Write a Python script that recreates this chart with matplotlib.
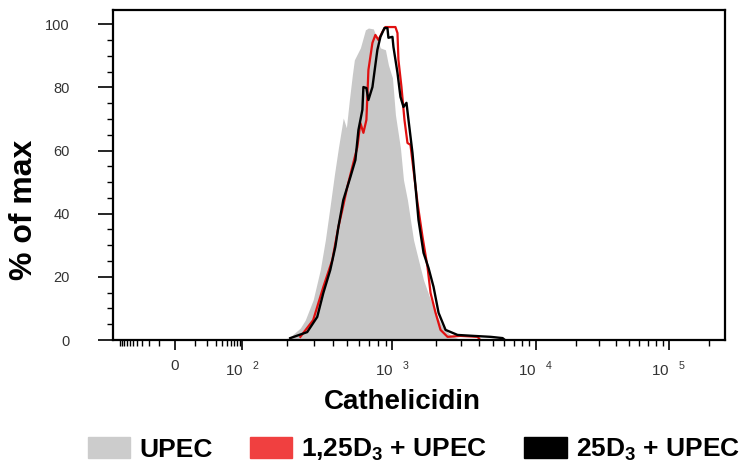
import numpy as np
import matplotlib
matplotlib.use('Agg')
import matplotlib.pyplot as plt
from matplotlib.patches import Patch
from matplotlib.ticker import FixedLocator

plt.rcParams['font.family'] = ['Liberation Sans', 'DejaVu Sans']
plt.rcParams['mathtext.fontset'] = 'custom'
plt.rcParams['mathtext.rm'] = 'Liberation Sans'
plt.rcParams['mathtext.bf'] = 'Liberation Sans:bold'

# histogram data: cathelicidin intensity vs % of max
upec_x = [188, 209, 244, 263, 297, 331, 358, 386, 411, 437, 471, 494, 517, 541, 558,
          612, 661, 692, 747, 794, 832, 898, 940, 1000, 1049, 1137, 1194, 1273, 1336,
          1403, 1520, 1648, 1845, 2000, 2239, 2545, 2990]
upec_y = [0, 1.0, 3.8, 6.3, 12.7, 22.2, 31.7, 42.8, 52.3, 60.8, 70.3, 67.2, 76, 83.9, 88.7,
          92.5, 98.2, 98.8, 98.5, 95, 92.5, 91.9, 87.1, 83, 71.3, 60.8, 50.7, 44.3, 38,
          31.7, 25.3, 19, 12.7, 8.6, 4.1, 1.6, 0]

d125_x = [244, 297, 347, 398, 437, 464, 501, 541, 584, 612, 641, 671, 692, 736, 770,
          807, 858, 898, 1049, 1084, 1101, 1156, 1213, 1273, 1336, 1403, 1496, 1622,
          1757, 1845, 2000, 2166, 2425, 2990, 3930, 4100]
d125_y = [1.0, 6.3, 16.8, 25.3, 35.8, 41.2, 48.5, 54.8, 61.1, 68.7, 65.6, 69.7, 85.5, 94.1, 96.6,
          95, 97.6, 99.1, 99.1, 97.2, 88.7, 80.1, 69.7, 62.4, 61.8, 53.8, 43.4, 32.6,
          23.1, 14.9, 8.6, 3.2, 1.0, 1.3, 1.0, 0]

d25_x = [209, 271, 316, 347, 386, 417, 437, 471, 525, 567, 594, 631, 641, 671, 692,
         736, 794, 832, 885, 926, 940, 1000, 1016, 1084, 1137, 1194, 1253, 1294, 1380,
         1449, 1520, 1648, 1786, 1936, 2099, 2348, 2848, 3684, 4845, 5875, 6100]
d25_y = [0.6, 2.5, 7.3, 14.9, 22.2, 29.5, 35.8, 44.3, 51.6, 57, 66.5, 72.9, 80.1, 79.8, 76,
         80.1, 91.9, 96, 98.8, 98.8, 95.7, 96, 92.8, 84.6, 77, 73.8, 75.1, 69.7, 59.2,
         48.5, 38, 27.6, 22.8, 16.8, 8.6, 3.2, 1.6, 1.3, 1.0, 0.6, 0]

major_vals = [0, 1e2, 1e3, 1e4, 1e5]
major_labels = ['0', r'10$^{\ \ \ 2}$', r'10$^{\ \ \ 3}$', r'10$^{\ \ \ 4}$', r'10$^{\ \ \ 5}$']

# biexponential-like display scale (FACS style)
W = 10.0
scale_vals = np.array([-150, 0, 1e2, 1e3, 1e4, 1e5, 262144])
scale_pos = np.array([0, 62, 129, 279, 422, 555, 611], dtype=float)
scale_t = np.arcsinh(scale_vals / W)


def fwd(x):
    return np.interp(np.arcsinh(np.asarray(x, dtype=float) / W), scale_t, scale_pos)


def inv(p):
    return W * np.sinh(np.interp(np.asarray(p, dtype=float), scale_pos, scale_t))


fig = plt.figure(figsize=(7.5, 4.65), dpi=100)
ax = fig.add_axes([113 / 750, 1 - 340 / 465, 612 / 750, 330 / 465])
ax.set_xscale('function', functions=(fwd, inv))

ax.fill_between(upec_x, upec_y, 0, color='#c8c8c8', lw=0, zorder=1)
ax.plot(d125_x, d125_y, color='#e01010', lw=1.6, zorder=2)
ax.plot(d25_x, d25_y, color='black', lw=1.7, zorder=3)

ax.set_xlim(-150, 262144)
ax.set_ylim(0, 104.5)

minor_x = list(range(-100, 0, 10)) + list(range(10, 100, 10))
for dec in [100, 1000, 10000]:
    minor_x += [k * dec for k in range(2, 10)]
minor_x.append(200000)
ax.xaxis.set_major_locator(FixedLocator(major_vals))
ax.xaxis.set_minor_locator(FixedLocator(minor_x))
ax.set_xticklabels(major_labels)

ax.yaxis.set_major_locator(FixedLocator(range(0, 101, 20)))
ax.yaxis.set_minor_locator(FixedLocator([v for v in range(0, 101, 5) if v % 20]))

ax.tick_params(axis='x', which='major', length=7, width=1.2, pad=7,
               labelsize=11, labelcolor='#333333')
ax.tick_params(axis='x', which='minor', length=4, width=1.0)
ax.tick_params(axis='y', which='major', length=11, width=1.2, pad=20,
               labelsize=10.5, labelcolor='#333333')
ax.tick_params(axis='y', which='minor', length=4, width=1.0)

for s in ax.spines.values():
    s.set_linewidth(1.6)

fig.text(402 / 750, 1 - 402 / 465, 'Cathelicidin', ha='center', va='center',
         fontsize=20, fontweight='bold')
fig.text(24 / 750, 1 - 210 / 465, '% of max', ha='center', va='center',
         rotation=90, fontsize=23, fontweight='bold')

handles = [Patch(color='#cccccc'), Patch(color='#f04040'), Patch(color='black')]
labels = ['UPEC', r'1,25D$_\mathbf{3}$ + UPEC', r'25D$_\mathbf{3}$ + UPEC']
fig.legend(handles, labels, loc='center', bbox_to_anchor=(414 / 750, 1 - 450 / 465),
           ncol=3, frameon=False, handlelength=1.6, handleheight=0.8,
           handletextpad=0.35, columnspacing=1.4,
           prop={'weight': 'bold', 'size': 19})

fig.savefig('out.png', dpi=100)
